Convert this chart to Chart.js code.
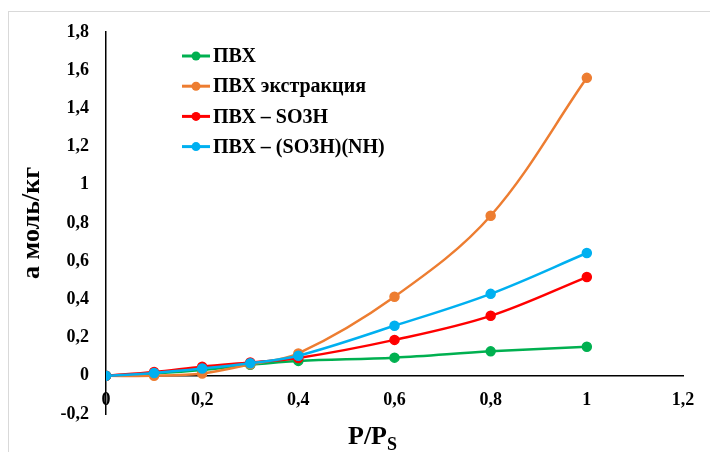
<!DOCTYPE html>
<html>
<head>
<meta charset="utf-8">
<script src="https://cdn.jsdelivr.net/npm/chart.js@4/dist/chart.umd.min.js"></script>
<style>
  html, body { margin: 0; padding: 0; background: #fff; }
  #wrap { width: 710px; height: 452px; }
</style>
</head>
<body>
<div id="wrap"><canvas id="chart" width="710" height="452"></canvas></div>
<script>
// P/Ps points and adsorption values (моль/кг)
const pressure = [0, 0.1, 0.2, 0.3, 0.4, 0.6, 0.8, 1];
const pvc = [0, 0.012, 0.03, 0.058, 0.078, 0.095, 0.128, 0.152];
const pvcExtracted = [0, 0, 0.012, 0.06, 0.117, 0.414, 0.838, 1.56];
const pvcSo3h = [0, 0.02, 0.048, 0.07, 0.093, 0.188, 0.314, 0.517];
const pvcSo3hNh = [0, 0.015, 0.038, 0.066, 0.105, 0.262, 0.429, 0.643];
const seriesNames = ['ПВХ', 'ПВХ экстракция', 'ПВХ – SO3H', 'ПВХ – (SO3H)(NH)'];
const xTicks = [0, 0.2, 0.4, 0.6, 0.8, 1, 1.2];

const colors = ['#00B050', '#ED7D31', '#FF0000', '#00B0F0'];
const serif = '"Liberation Serif", "Times New Roman", serif';
Chart.defaults.font.family = serif;
Chart.defaults.color = '#000';

const fmt = (v) => String(Math.round(v * 10) / 10).replace('.', ',');

const makeSet = (values, i) => ({
    label: seriesNames[i],
    data: pressure.map((x, k) => ({ x, y: values[k] })),
    borderColor: colors[i],
    backgroundColor: colors[i],
    pointBackgroundColor: colors[i],
    pointBorderColor: colors[i],
    borderWidth: 2.5,
    pointRadius: 4.5,
    pointBorderWidth: 1.5,
    tension: 0.35,
    order: 4 - i,
});

const frame = {
    id: 'frame',
    beforeDraw(chart) {
        const { ctx } = chart;
        ctx.save();
        ctx.fillStyle = '#fff';
        ctx.fillRect(0, 0, chart.width, chart.height);
        ctx.strokeStyle = '#d9d9d9';
        ctx.lineWidth = 1;
        ctx.strokeRect(8.5, 11.5, chart.width + 10, chart.height + 10);
        ctx.restore();
    },
    afterDraw(chart) {
        const { ctx } = chart;
        ctx.save();
        // legend inside the plot
        chart.data.datasets.forEach((ds, i) => {
            const y = 56 + i * 30.2;
            ctx.strokeStyle = ds.borderColor;
            ctx.lineWidth = 3;
            ctx.beginPath();
            ctx.moveTo(182, y);
            ctx.lineTo(210, y);
            ctx.stroke();
            ctx.fillStyle = ds.borderColor;
            ctx.beginPath();
            ctx.arc(196, y, 4.5, 0, Math.PI * 2);
            ctx.fill();
            ctx.fillStyle = '#000';
            ctx.font = 'bold 20px ' + serif;
            ctx.textBaseline = 'middle';
            ctx.fillText(ds.label, 213, y + 1);
        });
        // x axis title with subscript
        ctx.fillStyle = '#000';
        ctx.textBaseline = 'alphabetic';
        ctx.font = 'bold 26px ' + serif;
        ctx.fillText('P/P', 348, 444);
        const w = ctx.measureText('P/P').width;
        ctx.font = 'bold 18px ' + serif;
        ctx.fillText('S', 348 + w, 450);
        ctx.restore();
    },
};

new Chart(document.getElementById('chart'), {
    type: 'line',
    data: {
        datasets: [
            makeSet(pvc, 0),
            makeSet(pvcExtracted, 1),
            makeSet(pvcSo3h, 2),
            makeSet(pvcSo3hNh, 3),
        ],
    },
    options: {
        responsive: false,
        animation: false,
        devicePixelRatio: 1,
        layout: { padding: { left: 0, right: 27, top: 32, bottom: 38 } },
        plugins: { legend: { display: false }, tooltip: { enabled: false } },
        scales: {
            x: {
                type: 'linear',
                position: { y: 0 },
                min: 0,
                max: 1.2,
                afterBuildTicks: (s) => { s.ticks = xTicks.map((value) => ({ value })); },
                grid: { display: false, drawTicks: false },
                border: { display: true, color: '#000', width: 1.5 },
                ticks: {
                    padding: 14,
                    maxRotation: 0,
                    autoSkip: false,
                    font: { size: 18, weight: 'bold' },
                    callback: fmt,
                },
            },
            y: {
                min: -0.2,
                max: 1.8,
                afterFit: (s) => { s.width = 106; },
                grid: { display: false, drawTicks: false },
                border: { display: true, color: '#000', width: 1.5 },
                ticks: {
                    stepSize: 0.2,
                    padding: 17,
                    font: { size: 18, weight: 'bold' },
                    callback: fmt,
                },
                title: {
                    display: true,
                    text: 'а моль/кг',
                    font: { size: 26, weight: 'bold' },
                    padding: { top: 17, bottom: 0 },
                },
            },
        },
    },
    plugins: [frame],
});
</script>
</body>
</html>
